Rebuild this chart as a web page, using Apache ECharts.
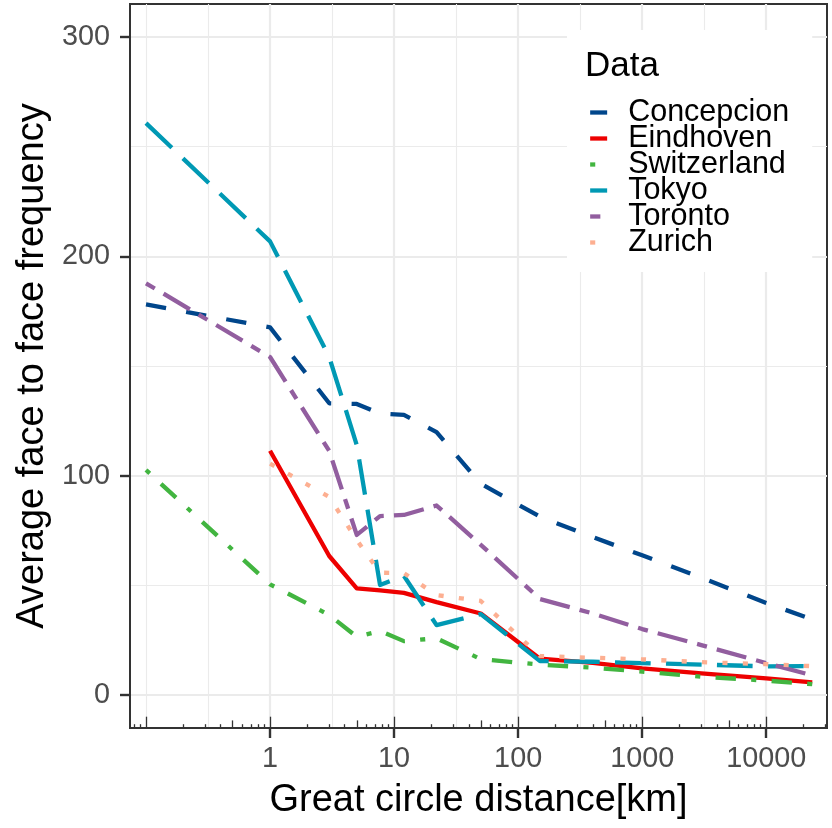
<!DOCTYPE html>
<html><head><meta charset="utf-8">
<script src="https://cdn.jsdelivr.net/npm/echarts@6/dist/echarts.min.js"></script>
<style>html,body{margin:0;padding:0;background:#fff}#c{width:832px;height:828px}</style>
</head><body><div id="c"></div>
<script>
// ---- data ----
const distance    = [0.1, 1, 3, 5, 7.7, 12, 22, 50, 150, 400, 1000, 3000, 10000, 23500];
const concepcion  = [178.1, 167.6, 133.0, 132.7, 128.3, 127.7, 119.9, 96.3, 81.3, 72.0, 63.7, 53.5, 42.0, 34.5];
const eindhoven   = [null, 111.4, 63.4, 48.6, 47.7, 46.6, 42.4, 37.2, 16.6, 14.7, 12.2, 9.9, 7.6, 5.8];
const switzerland = [102.6, 50.5, 36.5, 26.6, 29.2, 24.6, 25.9, 16.4, 13.9, 12.5, 10.7, 8.4, 6.6, 5.0];
const tokyo       = [260.7, 206.8, 154.1, 114.0, 50.2, 54.3, 31.9, 36.9, 15.5, 15.2, 14.6, 13.9, 13.1, 13.2];
const toronto     = [187.7, 154.1, 111.3, 73.0, 81.6, 82.1, 86.4, 68.5, 43.8, 37.2, 30.1, 22.8, 14.6, 9.0];
const zurich      = [null, 105.5, 90.3, 70.7, 55.8, 55.6, 45.6, 42.9, 17.8, 17.0, 16.3, 15.0, 14.1, 13.2];

const seriesNames = ['Concepcion', 'Eindhoven', 'Switzerland', 'Tokyo', 'Toronto', 'Zurich'];
const xMajorTicks = [1, 10, 100, 1000, 10000];
const xMinorGrid  = [0.1, 0.3162, 3.162, 31.62, 316.2, 3162];
const yMajorTicks = [0, 100, 200, 300];
const yMinorGrid  = [50, 150, 250];
const decades     = [0.01, 0.1, 1, 10, 100, 1000, 10000];

// ---- styles ----
const X_MIN = 0.0743, X_MAX = 30900;
const FONT = "'Liberation Sans', Arial, sans-serif";
const colors = ['#00468B', '#ED0000', '#42B540', '#0099B4', '#925E9F', '#FDAF91'];
const u = 5.1;
const dashes = [
  [4*u, 4*u],
  'solid',
  [1*u, 3*u, 4*u, 3*u],
  [7*u, 3*u],
  [2*u, 2*u, 6*u, 2*u],
  [1*u, 3*u]
];
const LW = 4.3;

function inRange(v) { return v >= X_MIN && v <= X_MAX; }
const logShort = [], logMid = [], logLong = [];
decades.forEach(d => {
  [2,3,4,6,7,8,9].forEach(m => { if (inRange(d*m)) logShort.push(d*m); });
  if (inRange(d*5)) logMid.push(d*5);
  if (inRange(d)) logLong.push(d);
});

const valueLists = [concepcion, eindhoven, switzerland, tokyo, toronto, zurich];
const series = seriesNames.map((name, i) => ({
  name, type: 'line', xAxisIndex: 0, yAxisIndex: 0,
  data: distance.map((d, k) => [d, valueLists[i][k]]).filter(p => p[1] !== null),
  symbol: 'none', showSymbol: false, silent: true,
  lineStyle: { color: colors[i], width: LW, type: dashes[i], cap: 'butt', join: 'round' },
  itemStyle: { color: colors[i] },
  emphasis: { disabled: true }
}));

function logAxis(extra) {
  return Object.assign({
    type: 'log', min: X_MIN, max: X_MAX, position: 'bottom', logBase: 10,
    axisLine: { show: false, onZero: false },
    axisTick: { show: false },
    axisLabel: { show: false },
    splitLine: { show: false },
    minorTick: { show: false }, minorSplitLine: { show: false }
  }, extra);
}

const tickLine = { color: '#333333', width: 1.3 };

const option = {
  animation: false,
  backgroundColor: '#ffffff',
  grid: { left: 130, right: 5, top: 4, bottom: 100, show: true, borderColor: '#333333', borderWidth: 2, backgroundColor: 'transparent', containLabel: false },
  title: {
    text: 'Data', left: 585, top: 49, padding: 0, z: 10,
    textStyle: { fontFamily: FONT, fontSize: 35, fontWeight: 'normal', color: '#000' }
  },
  legend: {
    data: seriesNames, orient: 'vertical', left: 567, top: 30,
    padding: [67, 23, 14, 21], backgroundColor: '#ffffff',
    itemWidth: 17, itemHeight: 2, itemGap: -5,
    lineStyle: { width: LW },
    itemStyle: { opacity: 0 },
    textStyle: { fontFamily: FONT, fontSize: 30.5, color: '#000', padding: [0, 0, 0, 16] },
    selectedMode: false
  },
  xAxis: [
    logAxis({
      axisLine: { show: true, onZero: false, lineStyle: { color: '#333333', width: 2 } },
      axisTick: { show: true, customValues: xMajorTicks, length: 10, lineStyle: { color: '#333333', width: 2.4 } },
      axisLabel: { show: true, customValues: xMajorTicks, margin: 17, fontFamily: FONT, fontSize: 28.8, color: '#4d4d4d', formatter: v => String(Math.round(v)) },
      splitLine: { show: true, lineStyle: { color: '#ebebeb', width: 2.2 } },
      name: 'Great circle distance[km]', nameLocation: 'middle', nameGap: 54,
      nameTextStyle: { fontFamily: FONT, fontSize: 38, color: '#000' }
    }),
    logAxis({
      axisTick: { show: false, customValues: xMinorGrid },
      splitLine: { show: true, lineStyle: { color: '#ebebeb', width: 1.1 } }
    }),
    logAxis({ axisTick: { show: true, inside: true, customValues: logShort, length: 3.8, lineStyle: tickLine } }),
    logAxis({ axisTick: { show: true, inside: true, customValues: logMid, length: 7.6, lineStyle: tickLine } }),
    logAxis({ axisTick: { show: true, inside: true, customValues: logLong, length: 11.3, lineStyle: tickLine } })
  ],
  yAxis: [
    {
      type: 'value', min: -15, max: 315, position: 'left',
      axisLine: { show: true, onZero: false, lineStyle: { color: '#333333', width: 2 } },
      axisTick: { show: true, customValues: yMajorTicks, length: 10, lineStyle: { color: '#333333', width: 2.4 } },
      axisLabel: { show: true, customValues: yMajorTicks, margin: 20, fontFamily: FONT, fontSize: 28.8, color: '#4d4d4d' },
      splitLine: { show: true, lineStyle: { color: '#ebebeb', width: 2.2 } },
      name: 'Average face to face frequency', nameLocation: 'middle', nameGap: 67,
      nameTextStyle: { fontFamily: FONT, fontSize: 38, color: '#000' }
    },
    {
      type: 'value', min: -15, max: 315, position: 'left',
      axisLine: { show: false, onZero: false },
      axisTick: { show: false, customValues: yMinorGrid },
      axisLabel: { show: false },
      splitLine: { show: true, lineStyle: { color: '#ebebeb', width: 1.1 } }
    }
  ],
  series
};

const chart = echarts.init(document.getElementById('c'), null, { renderer: 'canvas' });
chart.setOption(option);
</script>
</body></html>
